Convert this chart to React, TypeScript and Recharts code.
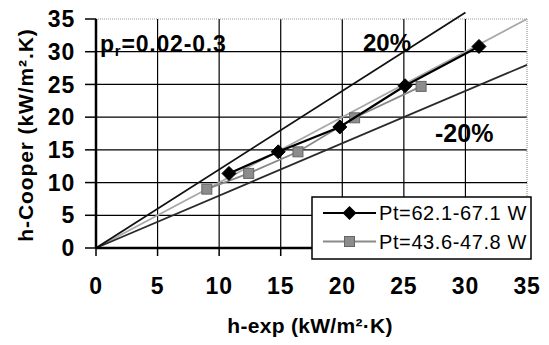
import React from "react";
import { ComposedChart, Scatter, XAxis, YAxis, ReferenceLine } from "recharts";

const axisTicks = [0, 5, 10, 15, 20, 25, 30, 35];
const gridValues = [5, 10, 15, 20, 25, 30];

const seriesHigh = [
  { x: 10.8, y: 11.4 },
  { x: 14.8, y: 14.7 },
  { x: 19.8, y: 18.5 },
  { x: 25.1, y: 24.8 },
  { x: 31.1, y: 30.8 },
];
const seriesLow = [
  { x: 9.0, y: 9.0 },
  { x: 12.4, y: 11.4 },
  { x: 16.4, y: 14.7 },
  { x: 21.0, y: 19.9 },
  { x: 26.4, y: 24.7 },
];

const plusLine = [{ x: 0, y: 0 }, { x: 30, y: 36 }];
const minusLine = [{ x: 0, y: 0 }, { x: 35, y: 28 }];
const identityLine = [{ x: 0, y: 0 }, { x: 35, y: 35 }];

const seriesNames = ["Pt=62.1-67.1 W", "Pt=43.6-47.8 W"];

const FONT = "'Liberation Sans', Arial, Helvetica, sans-serif";

const Diamond = (props: any) => {
  const { cx, cy } = props;
  const r = 7;
  return (
    <polygon
      points={`${cx},${cy - r} ${cx + r},${cy} ${cx},${cy + r} ${cx - r},${cy}`}
      fill="#000"
      stroke="#000"
      strokeWidth={1}
    />
  );
};

const Square = (props: any) => {
  const { cx, cy } = props;
  const s = 10;
  return (
    <rect
      x={cx - s / 2}
      y={cy - s / 2}
      width={s}
      height={s}
      fill="#8c8c8c"
      stroke="#666"
      strokeWidth={1}
    />
  );
};

const tickStyle = {
  fontSize: 23,
  fontWeight: 700,
  fill: "#000",
  fontFamily: FONT,
  letterSpacing: 0.8,
};

export default function App() {
  return (
    <div style={{ position: "absolute", left: 0, top: 0, width: 549, height: 345, background: "#fff" }}>
      <ComposedChart
        width={549}
        height={345}
        margin={{ top: 19, right: 22, left: 0, bottom: 0 }}
      >
        <XAxis
          type="number"
          dataKey="x"
          domain={[0, 35]}
          ticks={axisTicks}
          allowDataOverflow
          height={97}
          tickSize={8}
          tickMargin={22}
          axisLine={{ stroke: "#000", strokeWidth: 2.5 }}
          tickLine={{ stroke: "#000", strokeWidth: 1.5 }}
          tick={tickStyle}
          interval={0}
        />
        <YAxis
          type="number"
          dataKey="y"
          domain={[0, 35]}
          ticks={axisTicks}
          allowDataOverflow
          width={96}
          tickSize={11}
          tickMargin={10}
          axisLine={{ stroke: "#000", strokeWidth: 2.5 }}
          tickLine={{ stroke: "#000", strokeWidth: 1.5 }}
          tick={tickStyle}
          interval={0}
        />
        {gridValues.map((v) => (
          <ReferenceLine key={"gx" + v} x={v} stroke="#000" strokeWidth={1.2} />
        ))}
        {gridValues.map((v) => (
          <ReferenceLine key={"gy" + v} y={v} stroke="#000" strokeWidth={1.2} />
        ))}
        <ReferenceLine x={35} stroke="#999" strokeWidth={1.2} strokeDasharray="1 1" />
        <ReferenceLine y={35} stroke="#999" strokeWidth={1.2} strokeDasharray="1 1" />
        <ReferenceLine segment={identityLine} stroke="#a8a8a8" strokeWidth={1.8} ifOverflow="visible" />
        <ReferenceLine segment={minusLine} stroke="#2a2a2a" strokeWidth={1.8} ifOverflow="visible" />
        <ReferenceLine segment={plusLine} stroke="#111" strokeWidth={1.8} ifOverflow="visible" />
        <Scatter
          data={seriesLow}
          line={{ stroke: "#888", strokeWidth: 1.8 }}
          lineType="joint"
          shape={Square}
          isAnimationActive={false}
        />
        <Scatter
          data={seriesHigh}
          line={{ stroke: "#000", strokeWidth: 2.2 }}
          lineType="joint"
          shape={Diamond}
          isAnimationActive={false}
        />
      </ComposedChart>
      <svg
        width={549}
        height={345}
        style={{ position: "absolute", left: 0, top: 0, pointerEvents: "none" }}
        fontFamily={FONT}
      >
        <text x={100} y={51.5} fontSize={23} fontWeight={700} fill="#000" letterSpacing={0.8}>
          <tspan>p</tspan>
          <tspan fontSize={15} dy={4}>r</tspan>
          <tspan dy={-4}>=0.02-0.3</tspan>
        </text>
        <text x={363} y={51} fontSize={24} fontWeight={700} fill="#000" letterSpacing={0}>20%</text>
        <text x={435} y={141.5} fontSize={25} fontWeight={700} fill="#000" letterSpacing={0}>-20%</text>
        <text
          transform="translate(25,135) rotate(-90)"
          x={0}
          y={0}
          textAnchor="middle"
          dominantBaseline="central"
          fontSize={21}
          fontWeight={700}
          fill="#000"
          letterSpacing={0.9}
        >
          h-Cooper (kW/m².K)
        </text>
        <text x={310} y={333} textAnchor="middle" fontSize={21} fontWeight={700} fill="#000" letterSpacing={0.3}>
          h-exp (kW/m²·K)
        </text>
        <g>
          <rect x={312} y={197} width={219} height={62} fill="#fff" stroke="#000" strokeWidth={1.5} />
          <line x1={323} y1={213} x2={376} y2={213} stroke="#000" strokeWidth={2} />
          <polygon points="349.5,206 356.5,213 349.5,220 342.5,213" fill="#000" />
          <text x={379} y={220} fontSize={20} fill="#000" letterSpacing={0.6}>{seriesNames[0]}</text>
          <line x1={323} y1={241.5} x2={376} y2={241.5} stroke="#8a8a8a" strokeWidth={1.8} />
          <rect x={344.5} y={236.5} width={10} height={10} fill="#8c8c8c" stroke="#666" strokeWidth={1} />
          <text x={379} y={248.5} fontSize={20} fill="#000" letterSpacing={0.6}>{seriesNames[1]}</text>
        </g>
      </svg>
    </div>
  );
}
